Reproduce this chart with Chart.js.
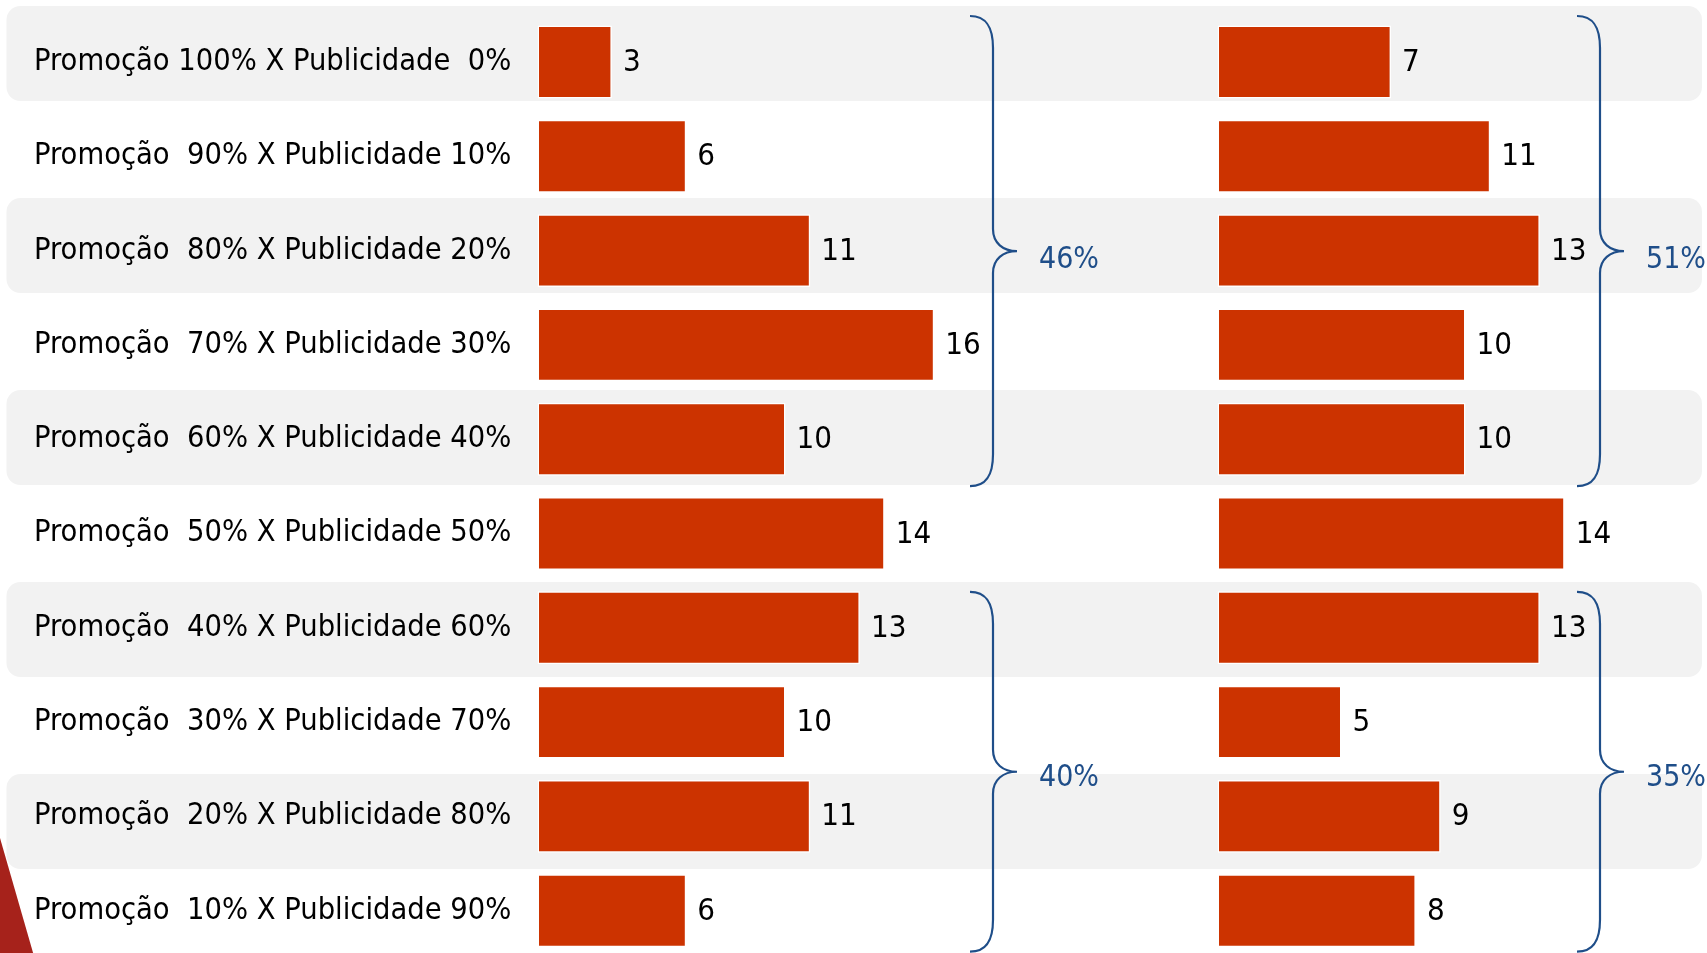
<!DOCTYPE html>
<html><head><meta charset="utf-8">
<script src="https://cdn.jsdelivr.net/npm/chart.js@4.4.1/dist/chart.umd.min.js"></script>
<style>
html,body{margin:0;padding:0;background:#fff;overflow:hidden;width:1707px;height:953px;}
canvas{position:absolute;left:0;top:0;}
</style></head><body>
<canvas id="left" width="1707" height="970"></canvas>
<canvas id="right" width="1707" height="970"></canvas>
<script>
const categories = [
  "Promoção 100% X Publicidade  0%",
  "Promoção  90% X Publicidade 10%",
  "Promoção  80% X Publicidade 20%",
  "Promoção  70% X Publicidade 30%",
  "Promoção  60% X Publicidade 40%",
  "Promoção  50% X Publicidade 50%",
  "Promoção  40% X Publicidade 60%",
  "Promoção  30% X Publicidade 70%",
  "Promoção  20% X Publicidade 80%",
  "Promoção  10% X Publicidade 90%"
];
const valuesLeft  = [3, 6, 11, 16, 10, 14, 13, 10, 11, 6];
const valuesRight = [7, 11, 13, 10, 10, 14, 13, 5, 9, 8];
const groupsLeft  = [{from: 0, to: 4, label: "46%"}, {from: 6, to: 9, label: "40%"}];
const groupsRight = [{from: 0, to: 4, label: "51%"}, {from: 6, to: 9, label: "35%"}];

const FONT = '"DejaVu Sans Condensed", "DejaVu Sans", sans-serif';
const BAR_RED = '#cc3300';
const BLUE = '#1f4e89';

function drawBrace(ctx, x, yTop, yBot, hookW, tipW) {
  const mid = (yTop + yBot) / 2;
  ctx.beginPath();
  ctx.moveTo(x - hookW, yTop);
  ctx.bezierCurveTo(x - 6, yTop, x, yTop + 12, x, yTop + 32);
  ctx.lineTo(x, mid - 22);
  ctx.bezierCurveTo(x, mid - 8, x + 10, mid, x + tipW, mid);
  ctx.bezierCurveTo(x + 10, mid, x, mid + 8, x, mid + 22);
  ctx.lineTo(x, yBot - 32);
  ctx.bezierCurveTo(x, yBot - 12, x - 6, yBot, x - hookW, yBot);
  ctx.stroke();
}

function bracePlugin(groups, braceX) {
  return {
    id: 'braces',
    afterDraw(chart) {
      const ctx = chart.ctx, y = chart.scales.y;
      ctx.save();
      ctx.strokeStyle = BLUE;
      ctx.lineWidth = 2.2;
      ctx.fillStyle = BLUE;
      ctx.font = '30px ' + FONT;
      ctx.textBaseline = 'middle';
      ctx.textAlign = 'left';
      groups.forEach((g, gi) => {
        const top = y.getPixelForValue(g.from) - (gi === 0 ? 46 : 36);
        const bot = y.getPixelForValue(g.to) + (gi === 0 ? 47 : 41);
        drawBrace(ctx, braceX, top, bot, 23, 24);
        ctx.fillText(g.label, braceX + 46, (top + bot) / 2 + (gi === 0 ? 9 : 6));
      });
      ctx.restore();
    }
  };
}

const valueLabels = {
  id: 'valueLabels',
  afterDatasetsDraw(chart) {
    const ctx = chart.ctx;
    const meta = chart.getDatasetMeta(0);
    const data = chart.data.datasets[0].data;
    ctx.save();
    ctx.font = '31px ' + FONT;
    ctx.fillStyle = '#000';
    ctx.textAlign = 'left';
    ctx.textBaseline = 'alphabetic';
    meta.data.forEach((bar, i) => {
      ctx.fillText(String(data[i]), bar.x + 11, bar.y + 9);
    });
    ctx.restore();
  }
};

const background = {
  id: 'background',
  beforeDraw(chart) {
    const ctx = chart.ctx;
    ctx.save();
    // decorative red corner of the slide
    ctx.fillStyle = '#a6221b';
    ctx.beginPath();
    ctx.moveTo(0, 838);
    ctx.lineTo(38, 970);
    ctx.lineTo(0, 970);
    ctx.closePath();
    ctx.fill();
    // alternating row bands
    ctx.fillStyle = '#f2f2f2';
    for (let k = 0; k < 5; k++) {
      ctx.beginPath();
      ctx.roundRect(6.5, 6 + k * 192, 1695.5, 95, 14);
      ctx.fill();
    }
    ctx.restore();
  }
};

function baseOptions(padLeft, padRight, xMax, showY) {
  const yScale = {
    display: showY,
    grid: {display: false, drawTicks: false},
    border: {display: false},
    ticks: {
      crossAlign: 'far',
      padding: 0,
      color: '#000',
      autoSkip: false,
      font: {family: FONT, size: 30.5, lineHeight: 0.6}
    }
  };
  if (showY) yScale.afterFit = (scale) => { scale.width = 503.5; };
  return {
    responsive: false,
    animation: false,
    indexAxis: 'y',
    layout: {padding: {left: padLeft, right: padRight, top: 14.85, bottom: 12.15}},
    plugins: {legend: {display: false}, tooltip: {enabled: false}},
    scales: {
      x: {display: false, min: 0, max: xMax},
      y: yScale
    }
  };
}

function dataset(values) {
  return {
    data: values,
    backgroundColor: BAR_RED,
    borderColor: '#ffffff',
    borderWidth: 1.5,
    borderSkipped: false,
    barPercentage: 0.773,
    categoryPercentage: 1.0
  };
}

new Chart(document.getElementById('left'), {
  type: 'bar',
  data: {labels: categories, datasets: [dataset(valuesLeft)]},
  options: baseOptions(34, 673.5, 20, true),
  plugins: [background, valueLabels, bracePlugin(groupsLeft, 993)]
});

new Chart(document.getElementById('right'), {
  type: 'bar',
  data: {labels: categories, datasets: [dataset(valuesRight)]},
  options: baseOptions(1217.5, 18.3, 19, false),
  plugins: [valueLabels, bracePlugin(groupsRight, 1600)]
});
</script>
</body></html>
